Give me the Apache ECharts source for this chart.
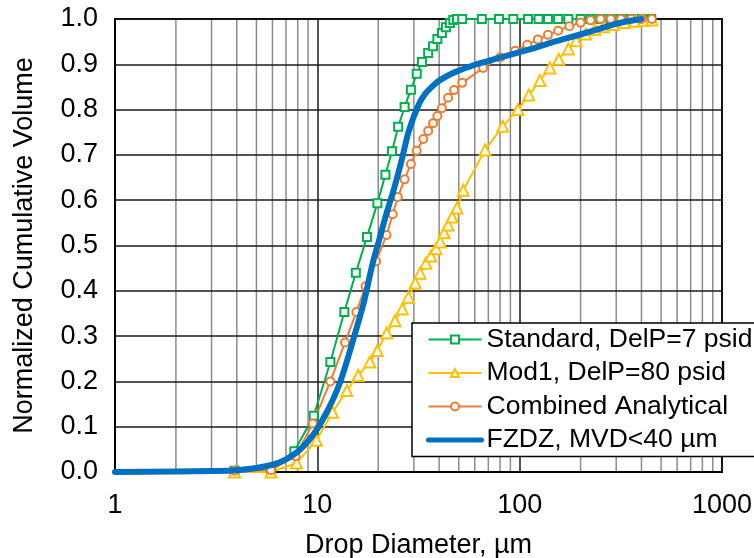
<!DOCTYPE html>
<html>
<head>
<meta charset="utf-8">
<script src="https://cdn.jsdelivr.net/npm/echarts@6/dist/echarts.min.js"></script>
<style>
  html, body { margin: 0; padding: 0; background: #fff; }
  #chart { width: 754px; height: 558px; }
</style>
</head>
<body>
<div id="chart"></div>
<script>
// Cumulative drop-size distributions: [diameter (µm), normalized cumulative volume]
const standardDelP7 = [
  [3.9, 0.003], [5.9, 0.004], [7.7, 0.046], [9.6, 0.124], [11.6, 0.243],
  [13.6, 0.353], [15.5, 0.44], [17.6, 0.519], [19.8, 0.593], [21.7, 0.656],
  [23.4, 0.708], [25.1, 0.762], [27.0, 0.806], [29.0, 0.844], [31.0, 0.879],
  [32.9, 0.905], [35.3, 0.925], [37.3, 0.94], [39.2, 0.956], [41.3, 0.969],
  [43.2, 0.982], [45.2, 0.991], [47.0, 0.998], [49, 1.0], [52, 1.0],
  [65, 1.0], [79, 1.0], [93, 1.0], [110, 1.0], [124, 1.0], [138, 1.0],
  [155, 1.0], [174, 1.0], [200, 1.0], [224, 1.0], [251, 1.0], [282, 1.0],
  [316, 1.0], [355, 1.0], [400, 1.0], [447, 1.0]
];

const mod1DelP80 = [
  [3.9, 0.0], [5.9, 0.0], [7.9, 0.02], [9.9, 0.07], [11.9, 0.132],
  [14.0, 0.18], [15.9, 0.213], [18.2, 0.243], [19.8, 0.268], [22.0, 0.307],
  [24.2, 0.334], [26.3, 0.36], [28.2, 0.386], [30.5, 0.417], [32.2, 0.439],
  [34.4, 0.461], [36.4, 0.477], [38.6, 0.493], [40.5, 0.508], [42.3, 0.528],
  [44.3, 0.545], [46.4, 0.563], [49.0, 0.583], [52.6, 0.622], [67.5, 0.711],
  [82.5, 0.763], [98, 0.8], [111, 0.832], [126, 0.864], [141, 0.892],
  [156, 0.911], [174, 0.934], [190, 0.952], [212, 0.967], [235, 0.977],
  [260, 0.983], [290, 0.988], [330, 0.992], [370, 0.995], [410, 0.997],
  [450, 0.998]
];

const combinedAnalytical = [
  [3.9, 0.003], [5.9, 0.004], [7.8, 0.035], [9.5, 0.107], [11.6, 0.2],
  [13.7, 0.286], [15.6, 0.353], [17.3, 0.41], [19.5, 0.465], [22.0, 0.523],
  [23.6, 0.569], [25.0, 0.607], [27.0, 0.646], [29.0, 0.68], [31.0, 0.709],
  [33.4, 0.735], [35.3, 0.753], [37.3, 0.77], [39.2, 0.786], [41.3, 0.803],
  [44.3, 0.826], [47.4, 0.843], [52, 0.859], [66, 0.892], [80, 0.915],
  [95, 0.93], [109, 0.943], [123, 0.955], [138, 0.965], [155, 0.974],
  [176, 0.984], [200, 0.992], [224, 0.997], [251, 1.0], [282, 1.0],
  [316, 1.0], [355, 1.0], [400, 1.0], [450, 1.0]
];

const fzdzMvd40 = [
  [1, 0.0], [2, 0.001], [3, 0.002], [4, 0.004], [5, 0.009], [6, 0.016],
  [7, 0.028], [8, 0.045], [9, 0.068], [10, 0.095], [11, 0.128], [12, 0.162],
  [13, 0.2], [14, 0.245], [15, 0.29], [16, 0.333], [17, 0.375], [18, 0.425],
  [19, 0.47], [20, 0.505], [21, 0.54], [22, 0.572], [23, 0.6], [24, 0.627],
  [26, 0.685], [28, 0.745], [30, 0.785], [32, 0.815], [34, 0.834],
  [36, 0.846], [38, 0.856], [40, 0.864], [45, 0.877], [50, 0.886],
  [60, 0.899], [73, 0.91], [85, 0.918], [100, 0.927], [120, 0.937],
  [141, 0.947], [170, 0.957], [207, 0.968], [250, 0.979], [303, 0.99],
  [350, 0.996], [400, 1.0]
];

const seriesNames = [
  'Standard, DelP=7 psid',
  'Mod1, DelP=80 psid',
  'Combined Analytical',
  'FZDZ, MVD<40 µm'
];

const xTickValues = [1, 10, 100, 1000];
const yTickStep = 0.1;

// Intermediate log-decade grid lines (2..9, 20..90, 200..900)
const minorGridValues = [];
for (let d = 0; d < xTickValues.length - 1; d++) {
  for (let m = 2; m <= 9; m++) minorGridValues.push([m * xTickValues[d], 0]);
}

const FONT = "'Liberation Sans', Arial, sans-serif";
const FS = 27;

const chart = echarts.init(document.getElementById('chart'), null, { renderer: 'canvas' });

function markerSeries(name, data, color, symbol, size) {
  return {
    name, type: 'line', data,
    symbol, symbolSize: size,
    showSymbol: true,
    lineStyle: { color, width: 2 },
    itemStyle: { color, borderColor: color, borderWidth: 1.5 },
    z: 3
  };
}

chart.setOption({
  animation: false,
  backgroundColor: '#fff',
  textStyle: { fontFamily: FONT },
  grid: {
    left: 115, top: 19, right: 32, bottom: 86,
    containLabel: false, outerBoundsMode: 'none',
    show: true, borderColor: '#000', borderWidth: 2, backgroundColor: 'transparent'
  },
  xAxis: {
    type: 'log', logBase: 10, min: 1, max: 1000,
    name: 'Drop Diameter, µm', nameLocation: 'middle', nameGap: 60,
    nameTextStyle: { fontSize: FS, color: '#000', fontFamily: FONT },
    axisLine: { show: true, lineStyle: { color: '#000', width: 2 } },
    axisTick: { show: false },
    axisLabel: {
      fontSize: FS, color: '#000', fontFamily: FONT, margin: 20,
      formatter: v => String(Math.round(v))
    },
    splitLine: { show: true, lineStyle: { color: '#1a1a1a', width: 1.5 } }
  },
  yAxis: {
    type: 'value', min: 0, max: 1, interval: yTickStep,
    name: 'Normalized Cumulative Volume', nameLocation: 'middle', nameGap: 77,
    nameRotate: 90,
    nameTextStyle: { fontSize: FS, color: '#000', fontFamily: FONT },
    axisLine: { show: true, lineStyle: { color: '#000', width: 2 } },
    axisTick: { show: false },
    axisLabel: {
      fontSize: FS, color: '#000', fontFamily: FONT, margin: 17,
      formatter: v => v.toFixed(1)
    },
    splitLine: { show: true, lineStyle: { color: '#1a1a1a', width: 1.5 } }
  },
  legend: {
    orient: 'vertical', left: 412, top: 323,
    data: [
      seriesNames[0],
      seriesNames[1],
      seriesNames[2],
      { name: seriesNames[3], itemStyle: { opacity: 0, borderWidth: 0 }, lineStyle: { width: 5 } }
    ],
    backgroundColor: '#fff', borderColor: '#000', borderWidth: 1.5, borderRadius: 0,
    padding: [3, 14, 3, 14],
    itemWidth: 53, itemHeight: 10, itemGap: 6.5,
    textStyle: { fontSize: 26.5, color: '#000', fontFamily: FONT, lineHeight: 26 }
  },
  series: [
    {
      type: 'custom', silent: true, z: -1,
      data: minorGridValues,
      encode: { x: 0, y: 1 },
      renderItem: (params, api) => {
        const x = api.value(0);
        const p0 = api.coord([x, 0]);
        const p1 = api.coord([x, 1]);
        return {
          type: 'line',
          shape: { x1: p0[0], y1: p0[1], x2: p1[0], y2: p1[1] },
          style: { stroke: '#8c8c8c', lineWidth: 1.5 }
        };
      }
    },
    markerSeries(seriesNames[0], standardDelP7, '#00B050', 'emptyRect', 8),
    markerSeries(seriesNames[1], mod1DelP80, '#FFC000', 'emptyTriangle', 11),
    markerSeries(seriesNames[2], combinedAnalytical, '#ED7D31', 'emptyCircle', 8),
    {
      name: seriesNames[3], type: 'line', data: fzdzMvd40,
      symbol: 'none', smooth: 0.2,
      lineStyle: { color: '#0070C0', width: 6, cap: 'round', join: 'round' },
      itemStyle: { color: '#0070C0' },
      z: 4
    }
  ]
});
</script>
</body>
</html>
